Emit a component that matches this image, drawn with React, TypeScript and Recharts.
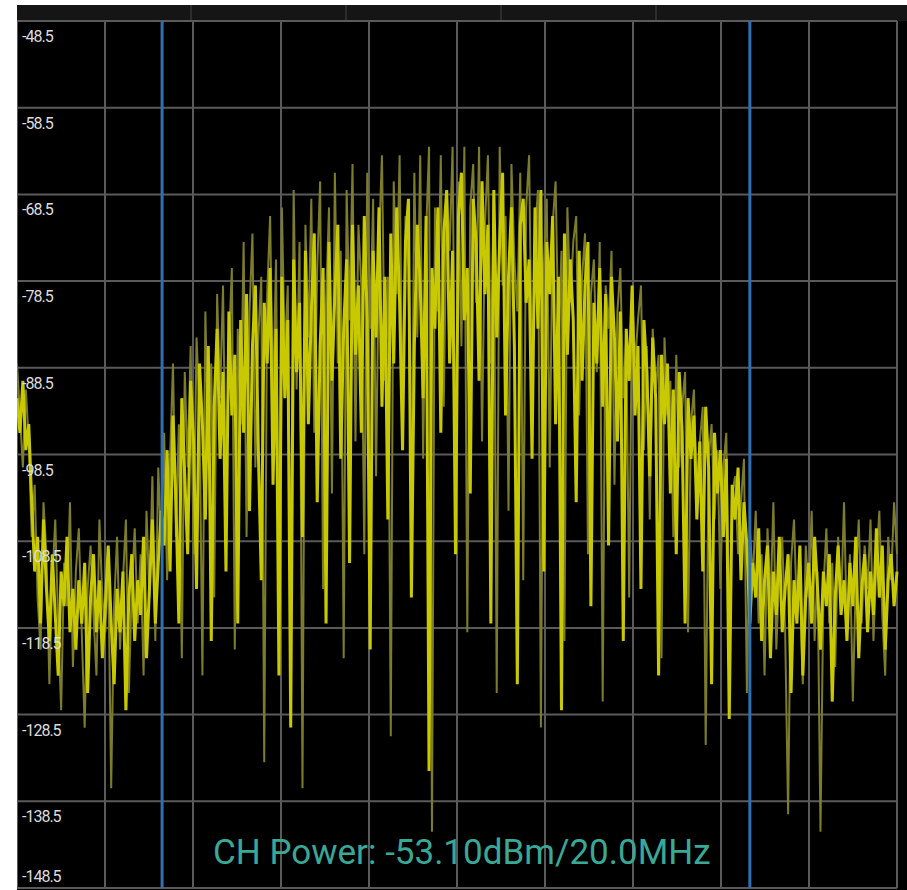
import { LineChart, Line, XAxis, YAxis, CartesianGrid, ReferenceLine } from 'recharts';

// level axis (dBm), top to bottom
const levelTicks = [-48.5, -58.5, -68.5, -78.5, -88.5, -98.5, -108.5, -118.5, -128.5, -138.5, -148.5];

// channel edges, in sample index units
const channelEdges = [49.3, 249];

const powerText = 'CH Power: -53.10dBm/20.0MHz';

// live sweep (bright trace)
const liveTrace = [
  -92, -96, -90, -98, -95, -104, -112, -108, -118, -106,
  -114, -120, -110, -117, -124, -112, -116, -108, -119, -114,
  -121, -113, -118, -111, -126, -115, -110, -119, -113, -122,
  -116, -109, -118, -125, -114, -119, -112, -128, -115, -110,
  -120, -113, -117, -108, -122, -114, -106, -118, -111, -105,
  -109, -98, -112, -94, -104, -118, -92, -101, -110, -90,
  -97, -114, -88, -95, -106, -86, -120, -93, -84, -99,
  -89, -112, -82, -94, -87, -118, -83, -96, -80, -105,
  -86, -79, -98, -113, -81, -88, -77, -102, -84, -124,
  -78, -92, -83, -130, -76, -89, -81, -108, -75, -95,
  -82, -73, -104, -86, -77, -118, -74, -90, -80, -72,
  -99, -84, -76, -111, -72, -87, -79, -96, -71, -83,
  -121, -75, -85, -70, -93, -78, -106, -73, -88, -70,
  -81, -98, -74, -69, -115, -86, -72, -79, -92, -71,
  -135, -77, -84, -70, -96, -73, -68, -88, -75, -110,
  -71, -66, -83, -77, -103, -69, -74, -90, -67, -80,
  -72, -118, -68, -85, -74, -66, -94, -78, -70, -86,
  -125, -72, -69, -81, -76, -99, -70, -84, -68, -112,
  -74, -80, -71, -95, -78, -128, -73, -87, -76, -83,
  -104, -75, -90, -79, -74, -116, -81, -88, -77, -93,
  -80, -109, -78, -85, -97, -82, -120, -84, -90, -79,
  -94, -86, -114, -83, -89, -101, -85, -92, -124, -87,
  -95, -88, -103, -91, -110, -89, -96, -118, -92, -99,
  -94, -106, -97, -112, -93, -100, -125, -96, -103, -98,
  -108, -99, -129, -102, -106, -100, -113, -104, -109, -118,
  -111, -115, -107, -120, -113, -109, -122, -112, -117, -108,
  -119, -114, -110, -126, -113, -118, -109, -124, -115, -111,
  -118, -108, -114, -121, -112, -116, -110, -127, -115, -109,
  -117, -113, -120, -111, -116, -108, -122, -114, -110, -119,
  -112, -117, -107, -115, -109, -121, -113, -110, -116, -112,
];

// persistence / previous sweep (dim trace)
const holdTrace = [
  -88, -94, -100, -91, -97, -108, -102, -115, -121, -104,
  -110, -125, -113, -106, -118, -128, -111, -116, -104, -123,
  -112, -107, -119, -130, -114, -109, -117, -124, -106, -115,
  -119, -111, -137, -116, -108, -121, -113, -106, -126, -114,
  -107, -118, -110, -124, -105, -115, -101, -120, -100, -109,
  -96, -113, -99, -88, -108, -95, -122, -89, -100, -86,
  -110, -85, -93, -124, -82, -98, -88, -115, -80, -92,
  -79, -104, -86, -77, -121, -84, -95, -74, -108, -82,
  -73, -100, -85, -78, -134, -80, -71, -93, -76, -112,
  -70, -87, -79, -118, -68, -91, -74, -137, -72, -85,
  -69, -96, -77, -67, -114, -81, -70, -103, -66, -88,
  -75, -122, -68, -83, -65, -97, -72, -79, -110, -66,
  -84, -69, -101, -74, -64, -90, -78, -131, -67, -80,
  -64, -95, -71, -77, -108, -66, -85, -64, -99, -73,
  -63, -142, -70, -82, -64, -93, -68, -75, -63, -104,
  -67, -86, -63, -119, -70, -65, -81, -63, -97, -72,
  -64, -88, -69, -126, -63, -79, -71, -105, -65, -76,
  -82, -66, -113, -70, -64, -92, -73, -68, -130, -77,
  -69, -100, -72, -67, -86, -75, -120, -70, -81, -74,
  -71, -94, -78, -73, -110, -80, -76, -89, -74, -127,
  -79, -84, -75, -102, -82, -77, -92, -85, -115, -80,
  -88, -83, -79, -98, -86, -106, -84, -91, -87, -122,
  -85, -94, -90, -108, -87, -100, -93, -89, -119, -95,
  -91, -104, -97, -93, -132, -99, -95, -106, -98, -114,
  -100, -96, -120, -103, -101, -110, -104, -99, -126, -107,
  -113, -105, -118, -110, -124, -107, -116, -104, -121, -112,
  -108, -119, -140, -111, -106, -117, -113, -125, -109, -115,
  -105, -120, -112, -142, -114, -107, -118, -111, -123, -108,
  -116, -104, -119, -110, -127, -113, -106, -118, -109, -114,
  -106, -120, -111, -105, -117, -124, -108, -113, -104, -110,
];

const POINTS = liveTrace.length;
const freqTicks = Array.from({ length: 11 }, (_, k) => (k * (POINTS - 1)) / 10);

const data = liveTrace.map((v, i) => ({ i, live: v, hold: holdTrace[i] }));

// vertical grid: one line per frequency division, placed through the x scale
function freqGrid({ xAxis, offset }: any) {
  return freqTicks.map((t) => {
    if (xAxis && typeof xAxis.scale === 'function') return xAxis.scale(t);
    return offset.left + (t / (POINTS - 1)) * offset.width;
  });
}

function LevelTick(props: any) {
  const { x, y, payload } = props;
  // labels sit under their grid line, the bottom one above it
  const bottom = payload.value === levelTicks[levelTicks.length - 1];
  return (
    <text
      x={x}
      y={y}
      dy={bottom ? -6 : 21}
      textAnchor="start"
      fill="#dcdcdc"
      fontSize={16}
      fontFamily="Roboto, sans-serif"
      letterSpacing={-1}
    >
      {Number(payload.value).toFixed(1)}
    </text>
  );
}

export default function App() {
  return (
    <div
      style={{
        position: 'fixed',
        left: 0,
        top: 0,
        width: 907,
        height: 890,
        background: '#fff',
        overflow: 'hidden',
      }}
    >
      {/* softkey strip above the trace */}
      <div style={{ position: 'absolute', left: 17, top: 5, width: 890, height: 17, background: '#151515' }}>
        {[173, 328, 483, 638].map((l) => (
          <div key={l} style={{ position: 'absolute', left: l, top: 0, width: 2, height: 17, background: '#2c2c2c' }} />
        ))}
      </div>
      <div style={{ position: 'absolute', left: 17, top: 21, width: 890, height: 869, background: '#000' }} />
      <div style={{ position: 'absolute', left: 17, top: 5 }}>
        <LineChart
          width={890}
          height={885}
          data={data}
          margin={{ top: 16, right: 10, left: 0, bottom: 2 }}
        >
          <CartesianGrid stroke="#5a5a5a" strokeWidth={2} verticalCoordinatesGenerator={freqGrid} />
          <XAxis
            type="number"
            dataKey="i"
            domain={[0, POINTS - 1]}
            ticks={freqTicks}
            interval={0}
            tick={false}
            tickLine={false}
            axisLine={false}
            height={0}
          />
          <YAxis
            type="number"
            domain={[-148.5, -48.5]}
            ticks={levelTicks}
            interval={0}
            allowDataOverflow
            mirror
            width={1}
            tickSize={0}
            tickMargin={5}
            tickLine={false}
            axisLine={false}
            tick={(p: any) => <LevelTick {...p} />}
          />
          <Line
            type="linear"
            dataKey="hold"
            stroke="#7c7c2a"
            strokeWidth={2}
            dot={false}
            isAnimationActive={false}
          />
          <Line
            type="linear"
            dataKey="live"
            stroke="#c9c900"
            strokeWidth={3}
            dot={false}
            isAnimationActive={false}
          />
          {channelEdges.map((e) => (
            <ReferenceLine key={e} x={e} stroke="#2f6fb3" strokeWidth={3} />
          ))}
        </LineChart>
      </div>
      <div
        style={{
          position: 'absolute',
          left: 213,
          top: 836,
          fontFamily: 'Roboto, sans-serif',
          fontSize: 35,
          lineHeight: '34px',
          color: '#3aa896',
          whiteSpace: 'nowrap',
        }}
      >
        {powerText}
      </div>
    </div>
  );
}
